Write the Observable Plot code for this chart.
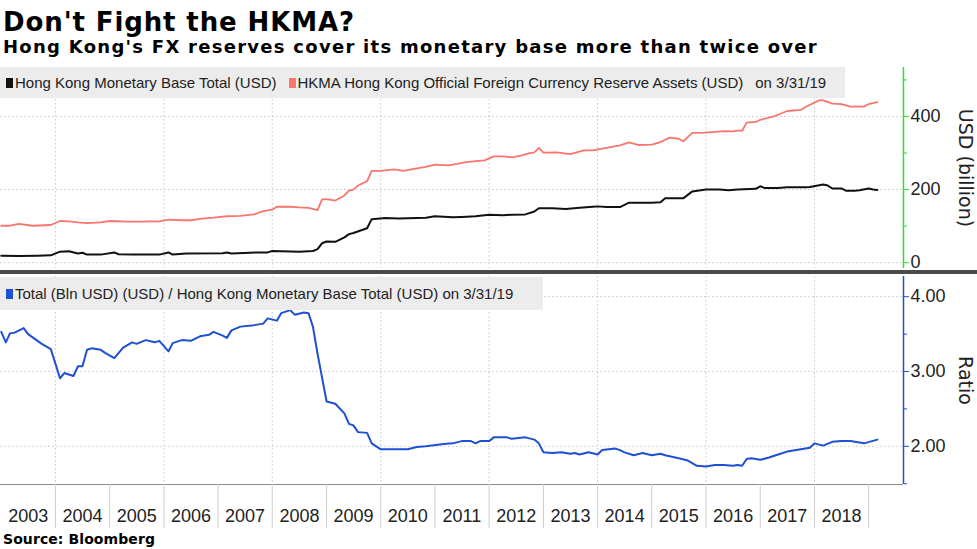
<!DOCTYPE html>
<html><head><meta charset="utf-8">
<script src="https://cdn.jsdelivr.net/npm/d3@7"></script>
<script src="https://cdn.jsdelivr.net/npm/@observablehq/plot@0.6"></script>
<style>
body{margin:0;background:#fff;}
#root{position:relative;width:977px;height:549px;overflow:hidden;font-family:"Liberation Sans",Arial,sans-serif;color:#222;}
.abs{position:absolute;}
.hdr{font-family:"DejaVu Sans",Verdana,sans-serif;font-weight:bold;color:#000;white-space:nowrap;line-height:1;}
#title{left:3px;top:9px;font-size:26px;}
#subtitle{left:3px;top:38px;font-size:18px;}
#source{left:3px;top:532px;font-size:14px;}
.legend{background:#ececec;display:flex;align-items:center;font-size:15px;white-space:nowrap;color:#222;}
.sw{display:inline-block;width:7px;height:10px;margin:0 2px 0 6px;}
#sep{left:0;top:270px;width:977px;height:4px;background:#4a4a4a;}
svg{display:block;}
</style></head>
<body><div id="root">
<div id="title" class="abs hdr"></div>
<div id="subtitle" class="abs hdr"></div>
<div id="topChart" class="abs" style="left:0;top:67px;"></div>
<div id="topLegend" class="abs legend" style="left:0;top:67px;width:845px;height:31px;"></div>
<div id="sep" class="abs"></div>
<div id="botChart" class="abs" style="left:0;top:276px;"></div>
<div id="botLegend" class="abs legend" style="left:0;top:277px;width:543px;height:33px;"></div>
<div id="xAxis" class="abs" style="left:0;top:484px;"></div>
<div id="source" class="abs hdr"></div>
</div>
<script>
// ---- text ----
const titleText = "Don't Fight the HKMA?";
const subtitleText = "Hong Kong's FX reserves cover its monetary base more than twice over";
const sourceText = "Source: Bloomberg";
const baseLabel = "Hong Kong Monetary Base Total (USD)";
const reserveLabel = "HKMA Hong Kong Official Foreign Currency Reserve Assets (USD)";
const ratioLabel = "Total (Bln USD) (USD) / Hong Kong Monetary Base Total (USD) on 3/31/19";
const dateNote = "on 3/31/19";
const topAxisLabel = "USD (billion)";
const botAxisLabel = "Ratio";

// ---- data (USD billion) ----
const baseDates = ["2003-01","2003-05","2003-09","2003-12","2004-02","2004-04","2004-06","2004-07","2004-08","2004-11","2005-02","2005-03","2005-06","2005-12","2006-02","2006-03","2006-06","2007-02","2007-03","2007-04","2007-10","2007-12","2008-01","2008-07","2008-10","2008-11","2008-12","2009-01","2009-03","2009-05","2009-06","2009-07","2009-10","2009-11","2010-02","2010-05","2010-11","2011-01","2011-05","2011-07","2011-10","2012-01","2012-04","2012-06","2012-09","2012-11","2012-12","2013-03","2013-06","2013-09","2013-12","2014-01","2014-03","2014-06","2014-08","2015-01","2015-03","2015-04","2015-08","2015-10","2016-01","2016-04","2016-06","2016-08","2016-12","2017-01","2017-02","2017-05","2017-07","2017-11","2017-12","2018-03","2018-04","2018-05","2018-07","2018-08","2018-10","2018-11","2019-01","2019-02","2019-03"];
const baseValues = [19,18,19,20,30,31,25,27,22,22,28,23,22,22,28,22,25,26,28,25,28,28,32,30,32,37,53,58,57,69,78,81,94,119,122,121,123,127,124,125,127,131,130,131,132,140,149,149,147,150,153,154,152,152,164,164,165,176,176,195,200,200,198,200,202,209,204,204,206,206,207,214,211,203,203,197,197,198,203,200,199];

const reserveDates = ["2003-01","2003-03","2003-05","2003-08","2003-12","2004-02","2004-04","2004-06","2004-08","2004-11","2005-01","2005-05","2005-08","2005-10","2005-12","2006-02","2006-05","2006-07","2006-09","2006-12","2007-03","2007-06","2007-09","2007-11","2008-01","2008-02","2008-05","2008-07","2008-09","2008-11","2008-12","2009-01","2009-03","2009-05","2009-06","2009-07","2009-08","2009-10","2009-11","2010-01","2010-04","2010-06","2010-09","2010-11","2011-01","2011-04","2011-06","2011-08","2011-10","2011-12","2012-02","2012-04","2012-06","2012-08","2012-10","2012-11","2012-12","2013-01","2013-04","2013-07","2013-10","2013-12","2014-03","2014-06","2014-08","2014-10","2015-01","2015-03","2015-05","2015-07","2015-08","2015-10","2016-01","2016-05","2016-07","2016-08","2016-09","2016-10","2016-12","2017-01","2017-04","2017-07","2017-10","2017-11","2018-02","2018-03","2018-05","2018-07","2018-09","2018-12","2019-01","2019-03"];
const reserveValues = [101,101,106,101,103,114,113,110,108,110,114,112,112,113,113,118,116,116,120,123,127,128,132,141,145,153,153,151,150,144,173,174,170,184,197,200,211,223,251,251,255,251,258,262,268,266,270,275,278,280,291,291,288,293,300,302,314,301,302,297,307,307,314,321,329,322,323,330,342,339,332,355,356,360,359,361,361,383,385,391,400,415,418,426,444,444,435,434,427,427,434,439];

const ratioDates = ["2003-01","2003-02","2003-03","2003-04","2003-06","2003-07","2003-10","2003-12","2004-02","2004-03","2004-05","2004-06","2004-07","2004-08","2004-09","2004-11","2004-12","2005-02","2005-04","2005-06","2005-07","2005-09","2005-11","2005-12","2006-02","2006-03","2006-05","2006-07","2006-09","2006-11","2006-12","2007-02","2007-03","2007-04","2007-06","2007-09","2007-11","2007-12","2008-02","2008-03","2008-05","2008-06","2008-08","2008-09","2008-10","2008-11","2009-01","2009-03","2009-05","2009-06","2009-07","2009-08","2009-10","2009-11","2010-01","2010-04","2010-07","2010-09","2010-11","2011-03","2011-05","2011-07","2011-09","2011-10","2011-11","2012-01","2012-02","2012-05","2012-06","2012-09","2012-11","2012-12","2013-01","2013-03","2013-05","2013-07","2013-08","2013-09","2013-11","2014-01","2014-02","2014-05","2014-06","2014-07","2014-09","2014-11","2015-01","2015-03","2015-04","2015-07","2015-09","2015-11","2016-01","2016-03","2016-05","2016-07","2016-08","2016-09","2016-10","2016-11","2017-01","2017-03","2017-05","2017-07","2017-10","2017-12","2018-01","2018-03","2018-05","2018-07","2018-09","2018-12","2019-03"];
const ratioValues = [3.53,3.39,3.51,3.52,3.58,3.50,3.37,3.30,2.91,2.98,2.94,3.07,3.07,3.29,3.31,3.29,3.25,3.18,3.32,3.39,3.37,3.42,3.39,3.41,3.27,3.38,3.42,3.41,3.47,3.49,3.53,3.48,3.45,3.55,3.60,3.62,3.64,3.71,3.68,3.78,3.82,3.76,3.79,3.78,3.60,3.24,2.60,2.57,2.44,2.30,2.28,2.19,2.18,2.04,1.96,1.96,1.96,1.99,2.00,2.03,2.04,2.07,2.07,2.04,2.07,2.07,2.12,2.12,2.10,2.12,2.09,2.04,1.92,1.91,1.92,1.90,1.91,1.89,1.92,1.89,1.95,1.97,1.95,1.92,1.88,1.91,1.88,1.90,1.88,1.84,1.81,1.74,1.73,1.75,1.75,1.74,1.75,1.74,1.83,1.84,1.82,1.85,1.89,1.93,1.96,1.98,2.04,2.01,2.06,2.07,2.07,2.04,2.09];

// ---- axes ----
const yearLabels = ["2003","2004","2005","2006","2007","2008","2009","2010","2011","2012","2013","2014","2015","2016","2017","2018"];
const yearBoundaries = [2004,2005,2006,2007,2008,2009,2010,2011,2012,2013,2014,2015,2016,2017,2018,2019];
const gridYears = [2004,2006,2008,2010,2012,2014,2016,2018];
const topTicks = [0,200,400];
const topMinorTicks = [100,300,500];
const topDomain = [-16,534];
const ratioTicks = [2,3,4];
const ratioMinorTicks = [1.5,2.5,3.5];
const ratioDomain = [1.49,4.27];
const xDomain = [new Date(Date.UTC(2002,11,27)), new Date(Date.UTC(2019,7,24))];

// ---- colours ----
const cBase = "#111111", cRes = "#f7766e", cRatio = "#1f4fd3", cGreen = "#2ee02e", cGrid = "#c6c6c6";

const parse = d3.utcParse("%Y-%m");
const baseData = baseDates.map((d,i)=>({date:parse(d), value:baseValues[i]}));
const reserveData = reserveDates.map((d,i)=>({date:parse(d), value:reserveValues[i]}));
const ratioData = ratioDates.map((d,i)=>({date:parse(d), value:ratioValues[i]}));
const jan1 = y => new Date(Date.UTC(y,0,1));
const midYear = y => new Date(Date.UTC(+y,6,2));

const common = {
  width: 977, marginTop: 0, marginLeft: 0, marginRight: 74,
  style: {fontFamily: "'Liberation Sans', Arial, sans-serif", fontSize: "18px", background: "transparent", color: "#222", overflow: "visible"},
  x: {type: "utc", domain: xDomain, axis: null}
};

const topPlot = Plot.plot({
  ...common, height: 201, marginBottom: 0,
  y: {domain: topDomain, axis: null},
  marks: [
    Plot.gridX(gridYears.map(jan1), {stroke: cGrid, strokeOpacity: 1, strokeDasharray: "1.5,2.5"}),
    Plot.gridY(topTicks, {stroke: cGrid, strokeOpacity: 1, strokeDasharray: "1.5,2.5"}),
    Plot.line(reserveData, {x: "date", y: "value", stroke: cRes, strokeWidth: 1.8}),
    Plot.line(baseData, {x: "date", y: "value", stroke: cBase, strokeWidth: 2}),
    Plot.ruleX([xDomain[1]], {stroke: cGreen, strokeWidth: 1.5}),
    Plot.axisY(topTicks, {anchor: "right", tickSize: 5, tickPadding: 2, stroke: cGreen, fill: "#222", fontSize: 18, label: null}),
    Plot.axisY(topMinorTicks, {anchor: "right", tickSize: 3, tickFormat: () => "", stroke: cGreen, label: null}),
    Plot.text([topAxisLabel], {frameAnchor: "right", textAnchor: "middle", rotate: 90, dx: 62, fontSize: 19, fontFamily: "DejaVu Sans", fill: "#222"})
  ]
});

const botPlot = Plot.plot({
  ...common, height: 209, marginBottom: 1,
  y: {domain: ratioDomain, axis: null},
  marks: [
    Plot.gridX(gridYears.map(jan1), {stroke: cGrid, strokeOpacity: 1, strokeDasharray: "1.5,2.5"}),
    Plot.gridY(ratioTicks, {stroke: cGrid, strokeOpacity: 1, strokeDasharray: "1.5,2.5"}),
    Plot.line(ratioData, {x: "date", y: "value", stroke: cRatio, strokeWidth: 2}),
    Plot.ruleY([ratioDomain[0]], {stroke: "#8a8a8a"}),
    Plot.ruleX([xDomain[1]], {stroke: cRatio, strokeWidth: 1.5}),
    Plot.axisY(ratioTicks, {anchor: "right", tickSize: 5, tickPadding: 2, stroke: cRatio, fill: "#222", fontSize: 18, tickFormat: d3.format(".2f"), label: null}),
    Plot.axisY(ratioMinorTicks, {anchor: "right", tickSize: 3, tickFormat: () => "", stroke: cRatio, label: null}),
    Plot.text([botAxisLabel], {frameAnchor: "right", textAnchor: "middle", rotate: 90, dx: 62, fontSize: 19, fontFamily: "DejaVu Sans", fill: "#222"})
  ]
});

const axisPlot = Plot.plot({
  ...common, height: 44, marginBottom: 0,
  marks: [
    Plot.ruleX(yearBoundaries.map(jan1), {stroke: "#cfcfcf"}),
    Plot.text(yearLabels, {x: midYear, frameAnchor: "middle", dy: 10, fontSize: 18, fill: "#222"})
  ]
});

document.getElementById("topChart").appendChild(topPlot);
document.getElementById("botChart").appendChild(botPlot);
document.getElementById("xAxis").appendChild(axisPlot);

// ---- header / footer / legends ----
document.getElementById("title").textContent = titleText;
document.getElementById("subtitle").textContent = subtitleText;
document.getElementById("source").textContent = sourceText;

function legendItem(color, label, gap) {
  const frag = document.createDocumentFragment();
  const sw = document.createElement("span"); sw.className = "sw"; sw.style.background = color;
  if (gap != null) sw.style.marginLeft = gap + "px";
  const t = document.createElement("span"); t.textContent = label;
  frag.appendChild(sw); frag.appendChild(t);
  return frag;
}
const tl = document.getElementById("topLegend");
tl.appendChild(legendItem(cBase, baseLabel));
tl.appendChild(legendItem(cRes, reserveLabel, 12));
const note = document.createElement("span"); note.textContent = dateNote; note.style.marginLeft = "12px";
tl.appendChild(note);
const bl = document.getElementById("botLegend");
bl.appendChild(legendItem(cRatio, ratioLabel));

function fit(id, target) {
  const el = document.getElementById(id);
  el.style.letterSpacing = "0px";
  const w = el.getBoundingClientRect().width;
  const n = el.textContent.length;
  el.style.letterSpacing = ((target - w) / n) + "px";
}
fit("title", 352);
fit("subtitle", 815);
fit("source", 152);
</script>
</body></html>
